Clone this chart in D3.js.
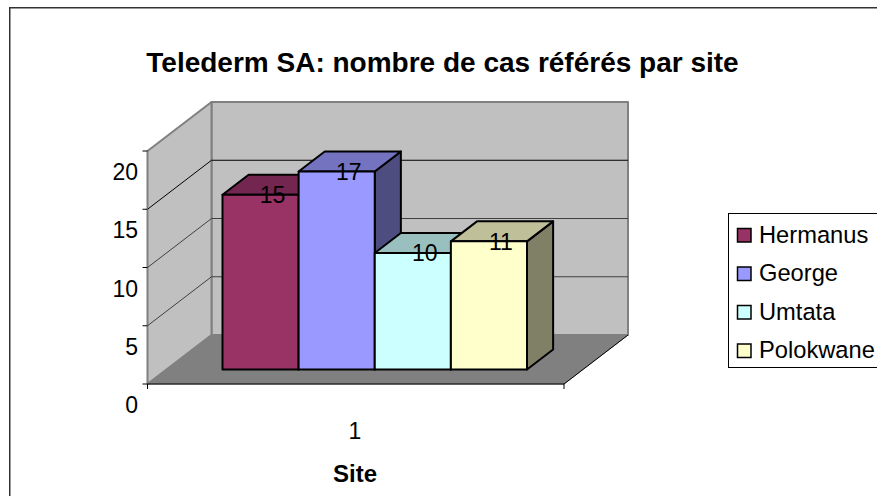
<!DOCTYPE html>
<html>
<head>
<meta charset="utf-8">
<script src="https://cdn.jsdelivr.net/npm/d3@7"></script>
<style>
  html, body { margin: 0; padding: 0; background: #fff; }
  svg { display: block; }
  text { font-family: "Liberation Sans", Arial, sans-serif; fill: #000; }
</style>
</head>
<body>
<div id="chart"></div>
<script>
  var title = "Telederm SA: nombre de cas référés par site";
  var xTitle = "Site";
  var categories = ["1"];
  var seriesNames = ["Hermanus", "George", "Umtata", "Polokwane"];
  var seriesValues = [15, 17, 10, 11];
  var yTicks = [0, 5, 10, 15, 20];
  var frontColors = ["#993366", "#9999ff", "#ccffff", "#ffffcc"];
  var topColors = ["#732650", "#7373bf", "#99bfbf", "#bfbf99"];
  var sideColors = ["#4d3366", "#4d4d80", "#668080", "#808066"];

  var width = 877, height = 496;
  var svg = d3.select("#chart").append("svg")
    .attr("width", width)
    .attr("height", height);

  // front plane of the 3d box
  var scaleY = d3.scaleLinear().domain([0, 20]).range([384, 151]);
  var scaleX = d3.scaleBand().domain(categories).range([147.5, 564]);
  var scaleSeries = d3.scaleBand().domain(seriesNames).range([222.5, 527]);
  // depth: 0 is the front of the box, 1 the back wall
  var depthX = d3.scaleLinear().domain([0, 1]).range([0, 64]);
  var depthY = d3.scaleLinear().domain([0, 1]).range([0, -49]);
  var barFront = 0.296, barBack = 0.704;

  function pt(x, y, z) {
    return [x + depthX(z), y + depthY(z)];
  }
  var line = d3.line();
  function poly(points, fill, stroke, sw) {
    svg.append("path")
      .attr("d", line(points) + "Z")
      .attr("fill", fill)
      .attr("stroke", stroke)
      .attr("stroke-width", sw)
      .attr("stroke-linejoin", "round");
  }

  // chart frame
  svg.append("path")
    .attr("d", "M9.75," + height + "V7.75H" + width)
    .attr("fill", "none")
    .attr("stroke", "#333")
    .attr("stroke-width", 1.5);

  var x0 = scaleX.range()[0], x1 = scaleX.range()[1];
  var yTop = scaleY(20), yBase = scaleY(0);

  // walls and floor
  poly([pt(x0, yBase, 1), pt(x1, yBase, 1), pt(x1, yTop, 1), pt(x0, yTop, 1)], "#c0c0c0", "#808080", 2);
  poly([pt(x0, yBase, 0), pt(x0, yBase, 1), pt(x0, yTop, 1), pt(x0, yTop, 0)], "#c0c0c0", "#808080", 2);
  poly([pt(x0, yBase, 0), pt(x1, yBase, 0), pt(x1, yBase, 1), pt(x0, yBase, 1)], "#808080", "#808080", 1);

  // gridlines
  yTicks.filter(function(d) { return d > 0 && d < 20; }).forEach(function(d) {
    svg.append("path")
      .attr("d", line([pt(x0, scaleY(d), 0), pt(x0, scaleY(d), 1), pt(x1, scaleY(d), 1)]))
      .attr("fill", "none")
      .attr("stroke", d === 15 ? "#000" : "#404040")
      .attr("stroke-width", 1);
  });

  // axis lines and ticks
  var axis = svg.append("g").attr("stroke", "#000").attr("stroke-width", 1).attr("fill", "none");
  axis.append("path").attr("d", line([[x0, yTop], [x0, yBase]])).attr("stroke", "#808080");
  axis.append("path").attr("d", line([[x0, yBase], [x1, yBase], pt(x1, yBase, 1)]));
  yTicks.forEach(function(d) {
    axis.append("path").attr("d", line([[x0 - 5, scaleY(d)], [x0, scaleY(d)]]));
  });
  axis.append("path").attr("d", line([[x0, yBase], [x0, yBase + 5]]));
  axis.append("path").attr("d", line([[x1, yBase], [x1, yBase + 5]]));

  svg.selectAll(".ytick").data(yTicks).enter().append("text")
    .attr("class", "ytick")
    .attr("x", 138)
    .attr("y", function(d) { return scaleY(d) + 29; })
    .attr("text-anchor", "end")
    .attr("font-size", 23)
    .text(function(d) { return d; });

  // bars
  seriesNames.forEach(function(name, i) {
    var v = seriesValues[i];
    var xa = scaleSeries(name), xb = xa + scaleSeries.bandwidth();
    var yv = scaleY(v), y0 = scaleY(0);
    // the bar base is lifted by the depth offset of its front face
    var dyF = depthY(barFront), dyB = depthY(barBack);
    var dxF = depthX(barBack) - depthX(barFront);
    var top = yv + dyF, base = y0 + dyF;
    poly([[xb, base], [xb + dxF, base + dyB - dyF], [xb + dxF, top + dyB - dyF], [xb, top]], sideColors[i], "#000", 2);
    poly([[xa, top], [xb, top], [xb + dxF, top + dyB - dyF], [xa + dxF, top + dyB - dyF]], topColors[i], "#000", 2);
    poly([[xa, base], [xb, base], [xb, top], [xa, top]], frontColors[i], "#000", 2);
  });

  // data labels
  seriesNames.forEach(function(name, i) {
    svg.append("text")
      .attr("x", scaleSeries(name) + scaleSeries.bandwidth() / 2 + 12)
      .attr("y", scaleY(seriesValues[i]) + depthY(barFront) + 8.5)
      .attr("text-anchor", "middle")
      .attr("font-size", 23)
      .text(seriesValues[i]);
  });

  // category and titles
  svg.append("text").attr("x", 355).attr("y", 439).attr("text-anchor", "middle")
    .attr("font-size", 23).text(categories[0]);
  svg.append("text").attr("x", 355).attr("y", 482).attr("text-anchor", "middle")
    .attr("font-size", 24).attr("font-weight", "bold").text(xTitle);
  svg.append("text").attr("x", 442.5).attr("y", 72).attr("text-anchor", "middle")
    .attr("font-size", 28).attr("font-weight", "bold").text(title);

  // legend
  svg.append("rect").attr("x", 728.5).attr("y", 213.5).attr("width", 160).attr("height", 154)
    .attr("fill", "#fff").attr("stroke", "#000");
  var legendY = d3.scalePoint().domain(seriesNames).range([235, 350.5]);
  seriesNames.forEach(function(name, i) {
    svg.append("rect").attr("x", 737.5).attr("y", legendY(name) - 6.5).attr("width", 13.5).attr("height", 13.5)
      .attr("fill", frontColors[i]).attr("stroke", "#000").attr("stroke-width", 1.5);
    svg.append("text").attr("x", 759).attr("y", legendY(name) + 7.5).attr("font-size", 23.7).text(name);
  });
</script>
</body>
</html>
